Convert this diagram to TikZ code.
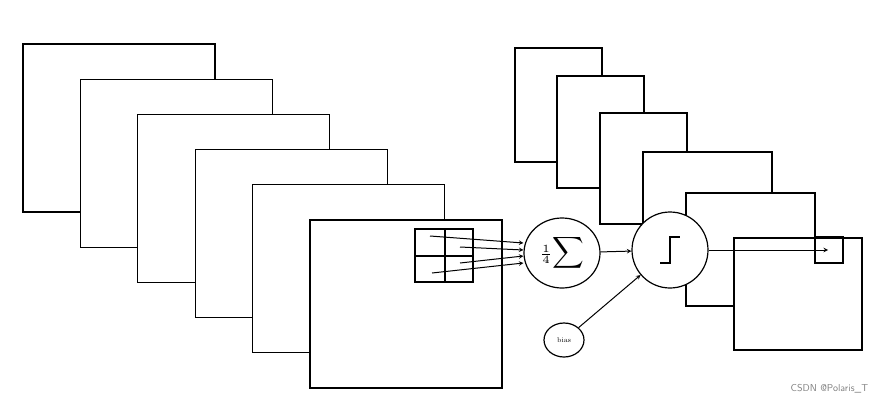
\documentclass[tikz,border=0pt]{standalone}
\usetikzlibrary{shapes.geometric}
\begin{document}
\begin{tikzpicture}[x=1pt,y=-1pt,line width=1.2pt,
 sq/.style={draw,fill=white},
 ar/.style={-stealth,line width=1pt}]
\useasboundingbox (0,0) rectangle (886,407);
\foreach \i in {0,...,5}{
 \filldraw[fill=white] (23+57.4*\i,44+35.2*\i) rectangle ++(192,168);}
\draw[sq] (515,48) rectangle (602,162);
\draw[sq] (557,76) rectangle (644,188);
\draw[sq] (600,113) rectangle (687,224);
\draw[sq] (643,152) rectangle (772,262);
\draw[sq] (686,193) rectangle (815,306);
\draw[sq] (734,238) rectangle (862,350);
\draw (815,237) rectangle (843,263);
\draw (415,229) rectangle (473,282);
\draw (445,229) -- (445,282) (415,256) -- (473,256);
\node[draw,ellipse,minimum width=76pt,minimum height=70pt,inner sep=0pt] (sum) at (562,253) {};
\node[scale=2.2] at (sum) {$\scriptstyle\frac14\displaystyle\!\sum$};
\node[draw,circle,minimum size=76pt,inner sep=0pt,fill=white] (act) at (670,250) {};
\draw (660,263) -- (670,263) -- (670,237) -- (680,237);
\node[draw,ellipse,minimum width=40pt,minimum height=34pt,inner sep=0pt,font=\scriptsize] (bias) at (564,340) {bias};
\coordinate (p1) at (430,236); \coordinate (p2) at (460,247);
\coordinate (p3) at (460,263); \coordinate (p4) at (432,273);
\coordinate (t) at (828,250);
\draw[ar] (p1) -- (sum.west|-0,243);
\draw[ar] (p2) -- (sum.west|-0,250);
\draw[ar] (p3) -- (sum.west|-0,256);
\draw[ar] (p4) -- (sum.west|-0,263);
\draw[ar] (sum) -- (act);
\draw[ar] (bias) -- (act);
\draw[ar] (act) -- (t);
\node[anchor=east,text=gray,font=\sffamily] at (872,389) {CSDN @Polaris\_T};
\end{tikzpicture}
\end{document}
